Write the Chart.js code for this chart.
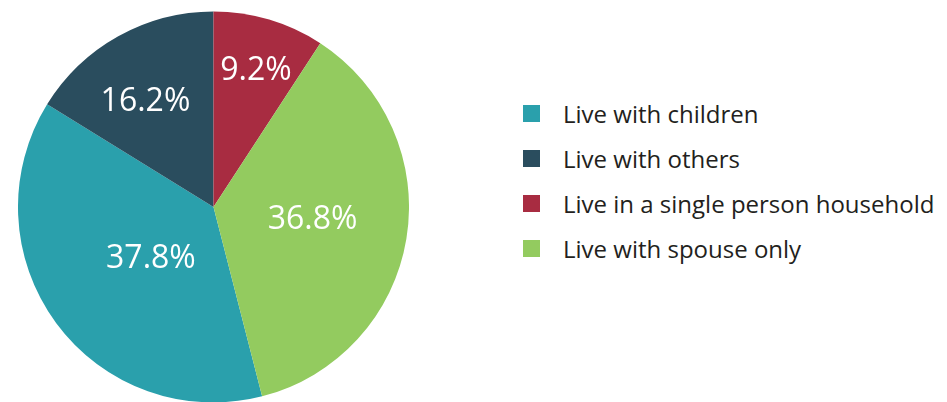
<!DOCTYPE html>
<html>
<head>
<meta charset="utf-8">
<script src="https://cdn.jsdelivr.net/npm/chart.js@4/dist/chart.umd.min.js"></script>
<style>
  html, body { margin: 0; padding: 0; background: #ffffff; }
  body { width: 947px; height: 402px; position: relative; overflow: hidden; font-family: "Open Sans", "Noto Sans", sans-serif; }
  #pieBox { position: absolute; left: 18px; top: 11px; width: 391px; height: 392px; }
  #legend { position: absolute; left: 523px; top: 91px; margin: 0; padding: 0; list-style: none; }
  #legend li { height: 45px; display: flex; align-items: center; font-size: 24px; color: #231f20; white-space: nowrap; }
  #legend .sw { width: 17px; height: 17px; margin-right: 23px; flex: none; }
</style>
</head>
<body>
<div id="pieBox"><canvas id="pie"></canvas></div>
<ul id="legend"></ul>
<script>
// Living arrangements, share of respondents (%)
const categories = [
  'Live with children',
  'Live with others',
  'Live in a single person household',
  'Live with spouse only'
];
const shares = [37.8, 16.2, 9.2, 36.8];
const sliceColors = ['#2aa0ac', '#2a4d5e', '#a82c41', '#93cb5f'];

// Per-slice label placement: fraction of radius and angular nudge (deg) from the slice middle
const labelPlacement = [
  { r: 0.41, a: -2.3 },
  { r: 0.65, a: -3.2 },
  { r: 0.74, a: 0.5 },
  { r: 0.51, a: -3.1 }
];

const sliceLabels = {
  id: 'sliceLabels',
  afterDatasetsDraw(chart) {
    const ctx = chart.ctx;
    const meta = chart.getDatasetMeta(0);
    const values = chart.data.datasets[0].data;
    const size = 32;
    ctx.save();
    ctx.font = size + 'px "Open Sans", "Noto Sans", sans-serif';
    ctx.fillStyle = '#ffffff';
    ctx.textAlign = 'center';
    ctx.textBaseline = 'alphabetic';
    meta.data.forEach((arc, i) => {
      const p = arc.getProps(['x', 'y', 'startAngle', 'endAngle', 'outerRadius'], true);
      const place = labelPlacement[i];
      const mid = (p.startAngle + p.endAngle) / 2 + place.a * Math.PI / 180;
      const d = p.outerRadius * place.r;
      const cx = p.x + Math.cos(mid) * d;
      const cy = p.y + Math.sin(mid) * d;
      ctx.fillText(values[i].toFixed(1) + '%', cx, cy + size * 0.357);
    });
    ctx.restore();
  }
};

const chart = new Chart(document.getElementById('pie'), {
  type: 'pie',
  data: {
    labels: categories,
    datasets: [{
      data: shares,
      backgroundColor: sliceColors,
      borderWidth: 0,
      hoverOffset: 0
    }]
  },
  options: {
    responsive: true,
    maintainAspectRatio: false,
    animation: false,
    rotation: 165.6,
    layout: { padding: 0 },
    plugins: {
      legend: { display: false },
      tooltip: { enabled: false }
    },
    events: []
  },
  plugins: [sliceLabels]
});

// Legend built from the same categories and colours
const legendEl = document.getElementById('legend');
categories.forEach((name, i) => {
  const li = document.createElement('li');
  const sw = document.createElement('span');
  sw.className = 'sw';
  sw.style.background = sliceColors[i];
  li.appendChild(sw);
  li.appendChild(document.createTextNode(name));
  legendEl.appendChild(li);
});
</script>
</body>
</html>
